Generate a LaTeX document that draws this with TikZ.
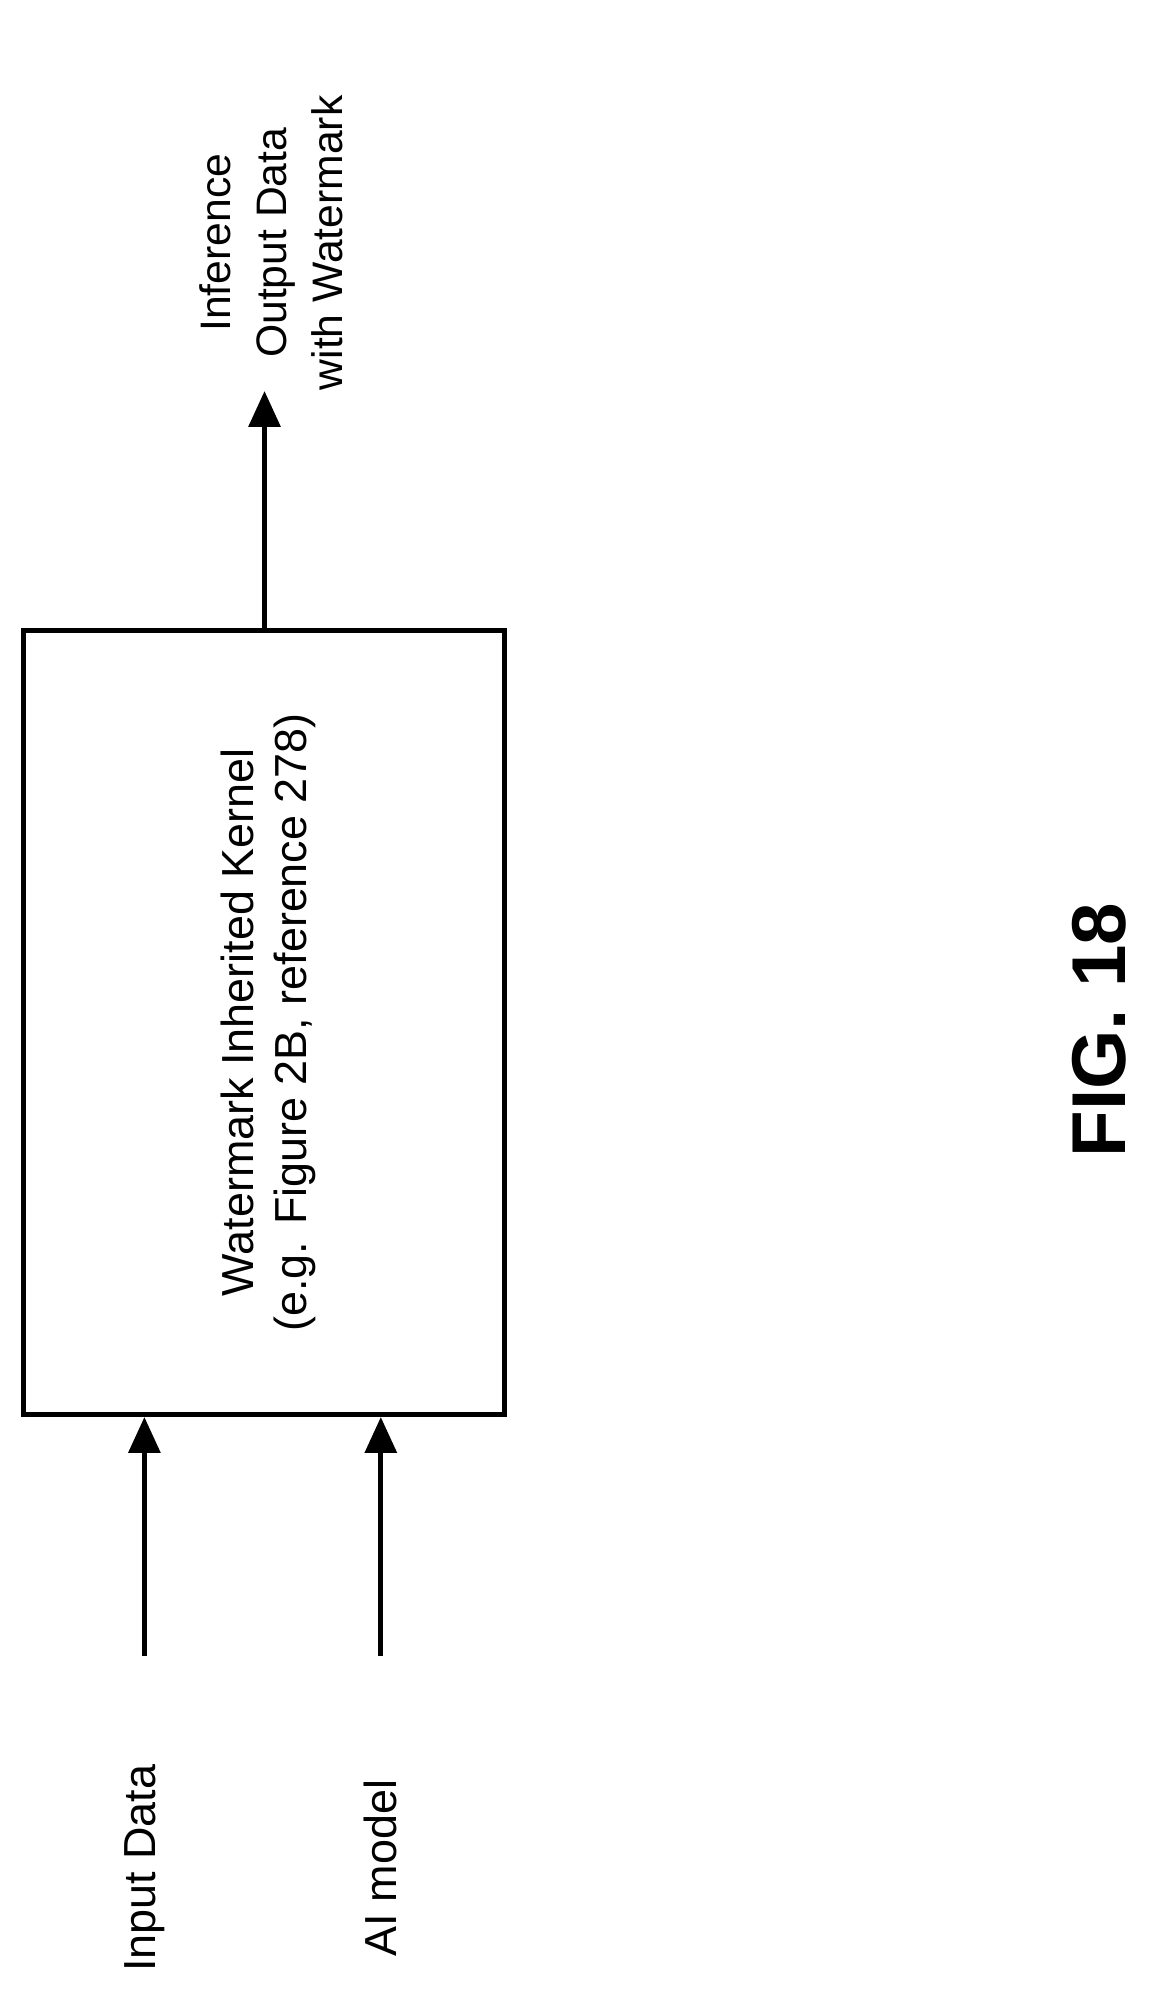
\documentclass[tikz,border=0pt]{standalone}
\usepackage{fontspec}
\setmainfont{Liberation Sans}
\usetikzlibrary{arrows.meta}
\begin{document}
\begin{tikzpicture}[x=0.02cm, y=-0.02cm]
    \tikzstyle{kernel} = [rectangle, draw, line width=2.2pt, minimum width=7.54cm, minimum height=12.28cm, inner sep=0pt]
    \tikzstyle{label} = [rotate=90, align=center, font=\fontsize{20}{24}\selectfont]
    \tikzstyle{flow} = [line width=2.2pt, -{Triangle[length=16pt, width=14pt]}]

    \useasboundingbox (0,0) rectangle (900,1569);

    % Kernel block
    \node [kernel] (wik) at (206.5,800) {};
    \node [label] (wik_text) at (210,800) {Watermark Inherited Kernel\\(e.g. Figure 2B, reference 278)};

    % Inputs
    \node [label] (input) at (113,1462) {Input Data};
    \node [label] (model) at (298,1462) {AI model};
    \coordinate (input_start) at (113,1296);
    \coordinate (model_start) at (298,1296);
    \draw [flow] (input_start) -- (wik.south -| input_start);
    \draw [flow] (model_start) -- (wik.south -| model_start);

    % Output
    \node [label, font=\fontsize{19}{25}\selectfont] (output) at (212,190) {Inference\\Output Data\\with Watermark};
    \coordinate (output_end) at (207,306);
    \draw [flow] (wik.north -| output_end) -- (output_end);

    \node [rotate=90, font=\bfseries\fontsize{34}{40}\selectfont] (fig) at (860,806) {FIG. 18};
\end{tikzpicture}
\end{document}
